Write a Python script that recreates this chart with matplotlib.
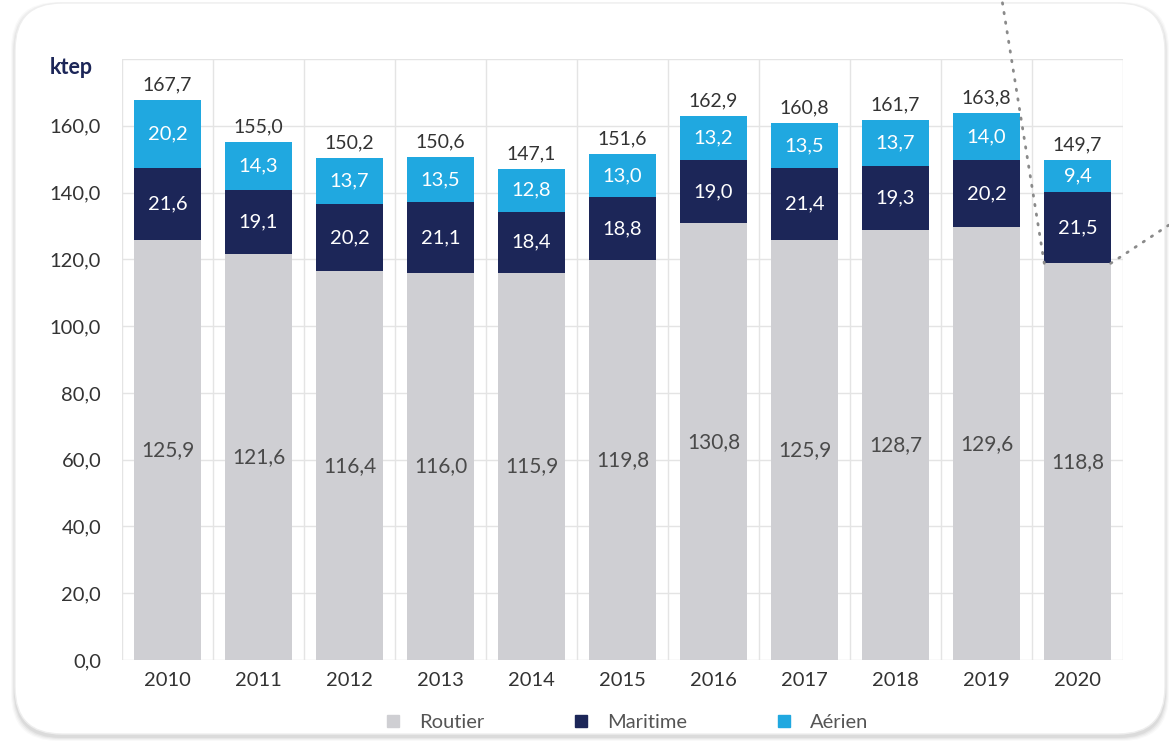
import numpy as np
import matplotlib.pyplot as plt
from matplotlib.patches import FancyBboxPatch, ConnectionPatch
from matplotlib.lines import Line2D

plt.rcParams['font.family'] = ['Lato', 'DejaVu Sans']

years = ['2010', '2011', '2012', '2013', '2014', '2015', '2016', '2017', '2018', '2019', '2020']
routier = [125.9, 121.6, 116.4, 116.0, 115.9, 119.8, 130.8, 125.9, 128.7, 129.6, 118.8]
maritime = [21.6, 19.1, 20.2, 21.1, 18.4, 18.8, 19.0, 21.4, 19.3, 20.2, 21.5]
aerien = [20.2, 14.3, 13.7, 13.5, 12.8, 13.0, 13.2, 13.5, 13.7, 14.0, 9.4]
totals = [167.7, 155.0, 150.2, 150.6, 147.1, 151.6, 162.9, 160.8, 161.7, 163.8, 149.7]
yticks = [0, 20, 40, 60, 80, 100, 120, 140, 160]

c_rout = '#cfcfd3'
c_mar = '#1c2658'
c_aer = '#20a8e0'
txt = '#333333'

def fr(v):
    return f'{v:.1f}'.replace('.', ',')

fig = plt.figure(figsize=(11.69, 7.51), dpi=100)
fig.patch.set_facecolor('#ffffff')

# card with a soft shadow, kept under the axes
for i, a in enumerate([0.025, 0.03, 0.04, 0.05]):
    g = 4 - i
    sh = FancyBboxPatch((15 / 1169 - g / 1169, 17 / 751 - (g + 3) / 751),
                        1150 / 1169 + 2 * g / 1169, 731 / 751 + 2 * g / 751,
                        boxstyle='round,pad=0,rounding_size=0.04',
                        transform=fig.transFigure, fc='#000000', ec='none',
                        alpha=a, mutation_aspect=1169 / 751, zorder=-3)
    fig.patches.append(sh)
card = FancyBboxPatch((15 / 1169, 17 / 751), 1150 / 1169, 731 / 751,
                      boxstyle='round,pad=0,rounding_size=0.04',
                      transform=fig.transFigure, fc='white', ec='#eeeeee',
                      lw=1, mutation_aspect=1169 / 751, zorder=-2)
fig.patches.append(card)

ax = fig.add_axes([122 / 1169, 1 - 660 / 751, 1001 / 1169, 601 / 751])
ax.set_facecolor('none')

x = np.arange(len(years))
w = 0.73
r = np.array(routier)
m = np.array(maritime)
a = np.array(aerien)

ax.bar(x, r, w, color=c_rout, zorder=2)
ax.bar(x, m, w, bottom=r, color=c_mar, zorder=2)
ax.bar(x, a, w, bottom=r + m, color=c_aer, zorder=2)

for i in range(len(years)):
    ax.text(x[i], r[i] / 2, fr(routier[i]), ha='center', va='center',
            fontsize=15, color='#4a4a4a', zorder=3)
    ax.text(x[i], r[i] + m[i] / 2, fr(maritime[i]), ha='center', va='center',
            fontsize=14.5, color='white', zorder=3)
    ax.text(x[i], r[i] + m[i] + a[i] / 2, fr(aerien[i]), ha='center', va='center',
            fontsize=14.5, color='white', zorder=3)
    ax.annotate(fr(totals[i]), (x[i], totals[i]), xytext=(0, 5),
                textcoords='offset points', ha='center', va='bottom',
                fontsize=14, color=txt, zorder=3)

ax.set_xlim(-0.5, len(years) - 0.5)
ax.set_ylim(0, 180)
ax.set_yticks(yticks)
ax.set_yticklabels([fr(v) for v in yticks], fontsize=14.5, color=txt)
ax.set_xticks(x)
ax.set_xticklabels(years, fontsize=14.5, color=txt)
ax.tick_params(length=0)
ax.tick_params(axis='y', pad=15)
ax.tick_params(axis='x', pad=9)

# grid: horizontal every 20, vertical between categories
for v in range(0, 181, 20):
    ax.axhline(v, color='#e4e4e4', lw=1, zorder=1)
for b in np.arange(-0.5, len(years), 1.0):
    ax.axvline(b, color='#e4e4e4', lw=1, zorder=1)
for s in ax.spines.values():
    s.set_visible(False)

fig.text(50 / 1169, 1 - 68 / 751, 'ktep', fontsize=15.5, fontweight='bold',
         color=c_mar, va='center', ha='left')

handles = [Line2D([], [], marker='s', ls='none', ms=8, color=c) for c in (c_rout, c_mar, c_aer)]
fig.legend(handles, ['Routier', 'Maritime', 'Aérien'], loc='center',
           bbox_to_anchor=(0.536, 1 - 722 / 751), ncol=3, frameon=False,
           fontsize=14.5, labelcolor='#555555', columnspacing=4.4,
           handletextpad=0.9, handlelength=0.8)

# dotted callout lines out of the 2020 bar
for xa, xb in [(x[-1] - w / 2, (1002 / 1169, 1.0)), (x[-1] + w / 2, (1.0, 1 - 225 / 751))]:
    con = ConnectionPatch(xyA=(xa, routier[-1]), coordsA='data', axesA=ax,
                          xyB=xb, coordsB='figure fraction',
                          color='#8a8a8a', lw=2, ls=(0, (0.5, 3)),
                          capstyle='round', zorder=5)
    fig.add_artist(con)

fig.savefig('out.png', dpi=100)
